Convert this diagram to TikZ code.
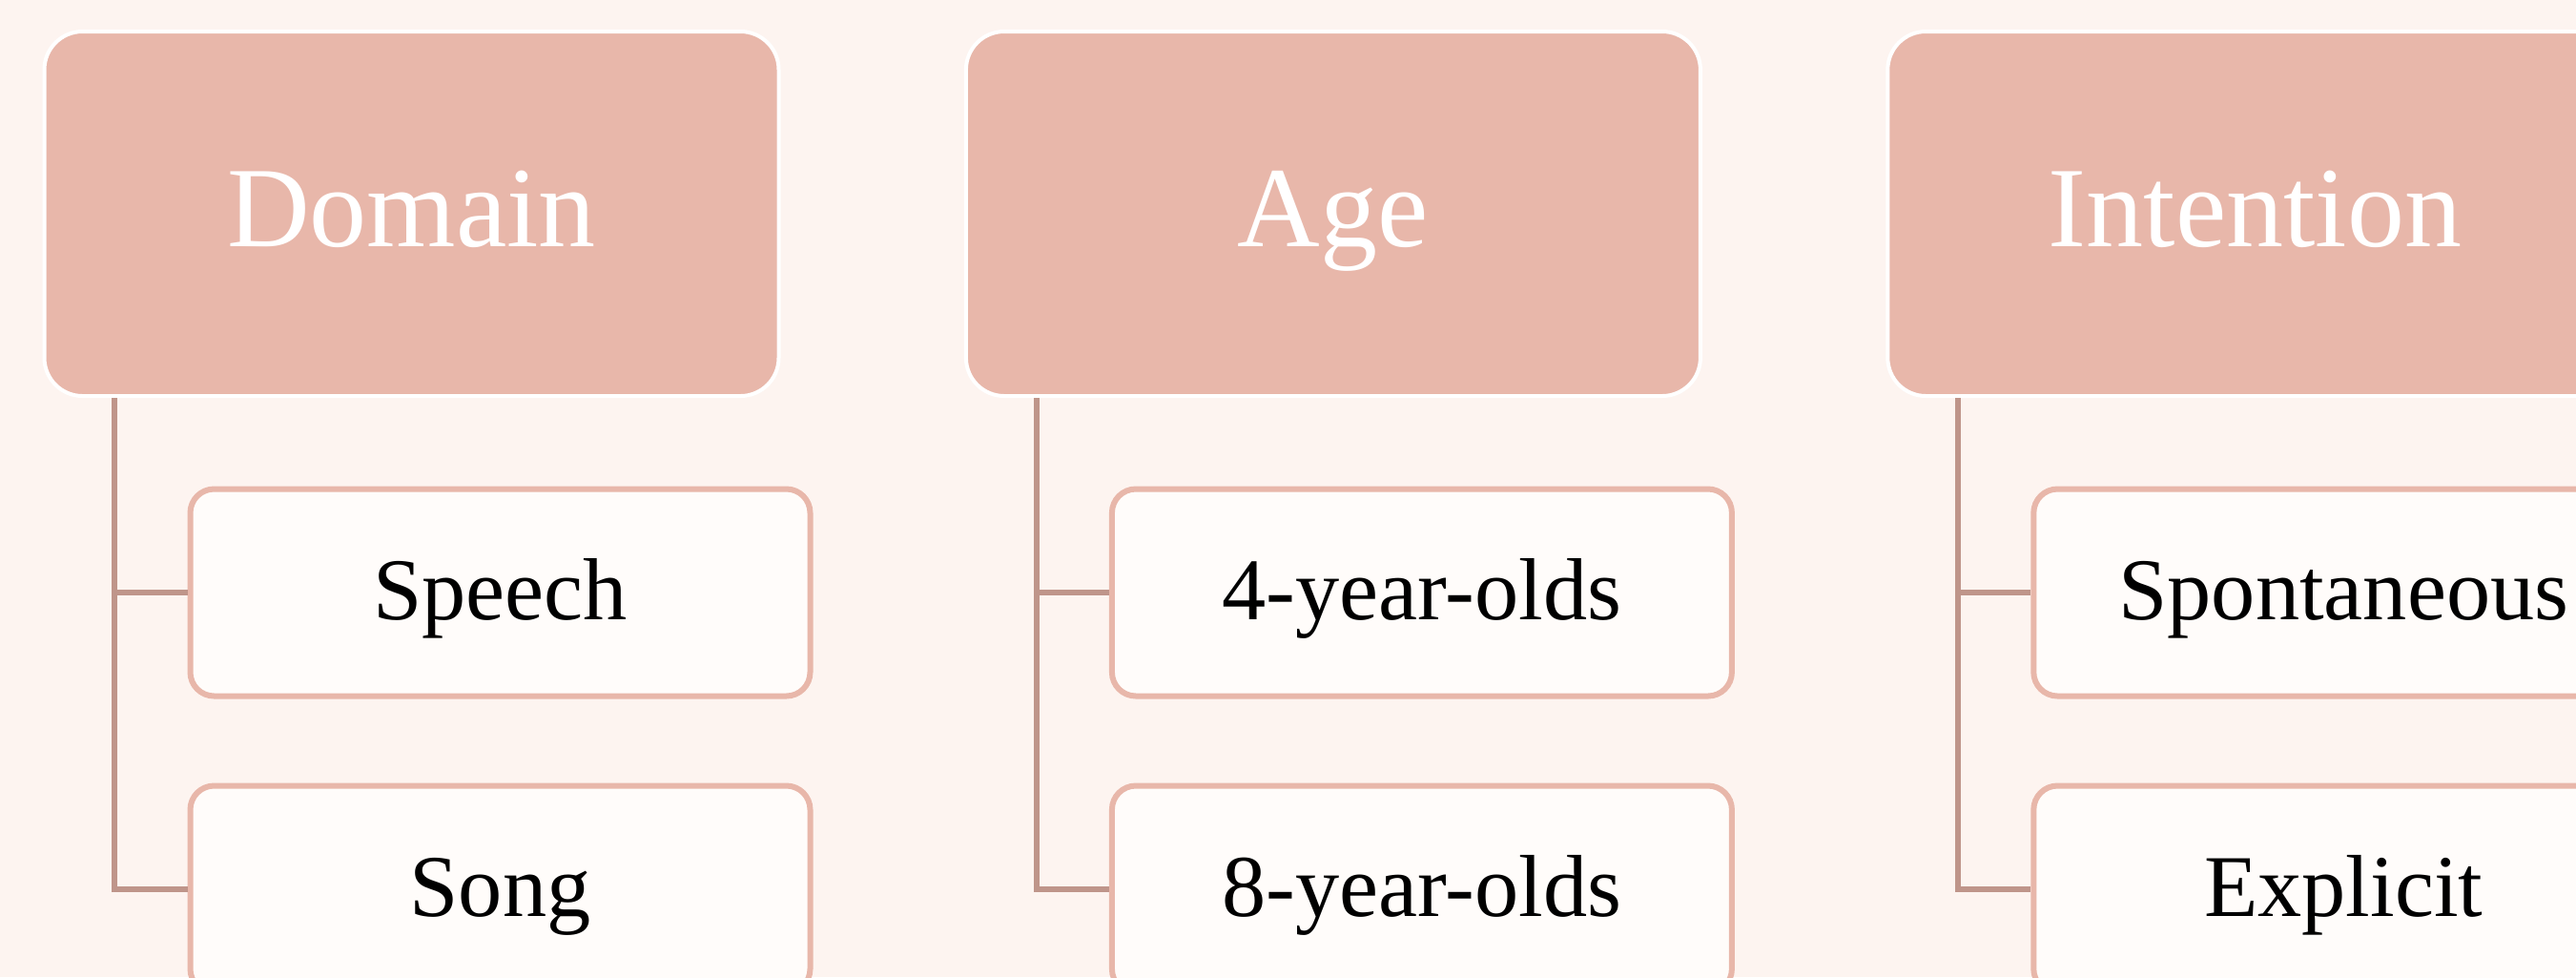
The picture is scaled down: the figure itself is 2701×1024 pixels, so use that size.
\documentclass[tikz,border=0pt]{standalone}
\usepackage{fontspec}
\setmainfont{Liberation Serif}
\usetikzlibrary{calc}
\definecolor{bgc}{HTML}{FDF4F0}
\definecolor{headc}{HTML}{E8B7AA}
\definecolor{childc}{HTML}{FFFCFA}
\definecolor{linec}{HTML}{BF958A}
\tikzset{
  headbox/.style={rectangle, rounded corners=12pt, fill=headc, draw=white, line width=1.2pt,
    minimum width=231pt, minimum height=114.6pt, inner sep=0pt,
    text=white, font=\fontsize{36}{40}\selectfont, text height=20.4pt, text depth=0pt},
  childbox/.style={rectangle, rounded corners=7.5pt, fill=childc, draw=headc, line width=1.8pt,
    minimum width=195pt, minimum height=65.1pt, inner sep=0pt,
    text=black, font=\fontsize{27.7}{32}\selectfont, text height=17.1pt, text depth=0pt},
  conn/.style={draw=linec, line width=1.8pt}
}
\begin{document}
\begin{tikzpicture}[x=0.3pt, y=-0.3pt]
\useasboundingbox (0,0) rectangle (2701,1024);
\clip (0,0) rectangle (2701,1024);
\fill[bgc] (0,0) rectangle (2701,1024);
% column 1
\node[headbox] (h1) at (431.5,224) {Domain};
\node[childbox] (c1a) at (524.5,621) {Speech};
\node[childbox] (c1b) at (524.5,932) {Song};
% column 2
\node[headbox] (h2) at (1397.9,224) {Age};
\node[childbox] (c2a) at (1490.9,621) {4-year-olds};
\node[childbox] (c2b) at (1490.9,932) {8-year-olds};
% column 3
\node[headbox] (h3) at (2364.3,224) {Intention};
\node[childbox] (c3a) at (2457.3,621) {Spontaneous};
\node[childbox] (c3b) at (2457.3,932) {Explicit};
% connectors
\foreach \i in {1,2,3}{
  \coordinate (t\i) at ($(h\i.south west)+(75.8,0)$);
  \draw[conn] (t\i) |- (c\i b.west);
  \draw[conn] (t\i |- c\i a.west) -- (c\i a.west);
}
\end{tikzpicture}
\end{document}
